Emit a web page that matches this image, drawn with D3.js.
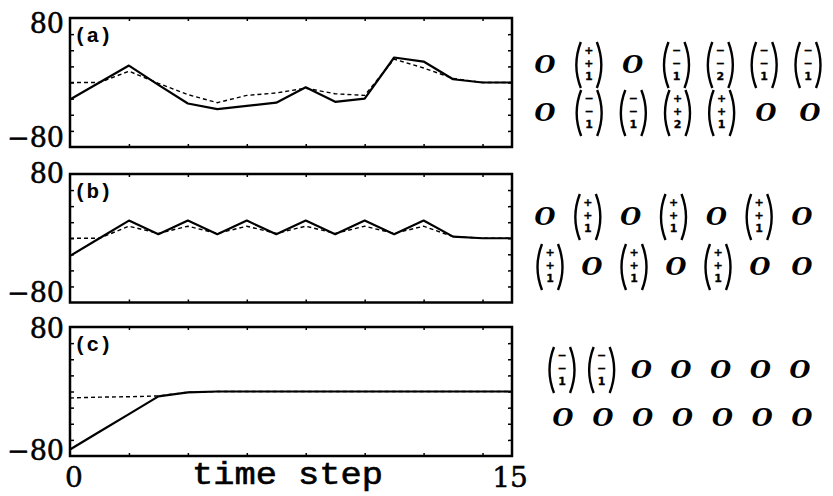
<!DOCTYPE html>
<html><head><meta charset="utf-8">
<script src="https://cdn.jsdelivr.net/npm/d3@7"></script>
<style>body{margin:0;background:#fff}svg{display:block}</style>
</head><body>
<script>
// ---- data ----
const timeSteps = d3.range(0, 16);
const solidA  = [-21, 0, 21, -3, -26, -33, -29, -25, -6, -24, -20, 31, 26, 4, 0, 0];
const dashedA = [0, 0, 14, -1, -15, -25, -16, -13, -7, -14, -16, 29, 18, 5, 0, 0];
const solidB  = [-22, 0, 22, 5, 22, 5, 22, 5, 22, 5, 22, 5, 22, 2, 0, 0];
const dashedB = [0, 0, 15, 6, 15, 6, 15, 6, 15, 6, 15, 6, 15, 2, 0, 0];
const solidC  = [-72, -50, -28, -6, -1, 0, 0, 0, 0, 0, 0, 0, 0, 0, 0, 0];
const dashedC = [-8, -7, -6.5, -5.5, -1, 0, 0, 0, 0, 0, 0, 0, 0, 0, 0, 0];
const panelLabels = ["(a)", "(b)", "(c)"];
const yTickLabels = ["80", "\u221280"];
const xTickLabels = ["0", "15"];
const xTitle = "time step";
const symA = [
  ["O", ["+","+","1"], "O", ["\u2212","\u2212","1"], ["\u2212","\u2212","2"], ["\u2212","\u2212","1"], ["\u2212","\u2212","1"]],
  ["O", ["\u2212","\u2212","1"], ["\u2212","\u2212","1"], ["+","+","2"], ["+","+","1"], "O", "O"]
];
const symB = [
  ["O", ["+","+","1"], "O", ["+","+","1"], "O", ["+","+","1"], "O"],
  [["+","+","1"], "O", ["+","+","1"], "O", ["+","+","1"], "O", "O"]
];
const symC = [
  [["\u2212","\u2212","1"], ["\u2212","\u2212","1"], "O", "O", "O", "O", "O"],
  ["O", "O", "O", "O", "O", "O", "O"]
];

// ---- layout ----
const W = 833, H = 496;
const svg = d3.select("body").append("svg").attr("width", W).attr("height", H);
const x = d3.scaleLinear().domain([0, 15]).range([70, 512]);
const panels = [
  {top: 18, bottom: 147, solid: solidA, dashed: dashedA, lab: panelLabels[0], t80: 15, b80: 0,
   sym: symA, rows: [{y: 65, x0: 545, x1: 808}, {y: 113, x0: 545, x1: 810}]},
  {top: 174, bottom: 302.5, solid: solidB, dashed: dashedB, lab: panelLabels[1], t80: 9, b80: -1,
   sym: symB, rows: [{y: 217, x0: 545, x1: 802}, {y: 267, x0: 550, x1: 802}]},
  {top: 327, bottom: 456, solid: solidC, dashed: dashedC, lab: panelLabels[2], t80: 11, b80: 4,
   sym: symC, rows: [{y: 370, x0: 562, x1: 800}, {y: 418, x0: 563, x1: 802}]}
];

panels.forEach(p => {
  const y = d3.scaleLinear().domain([-80, 80]).range([p.bottom, p.top]);
  const g = svg.append("g");
  const tk = (axis, tr) => {
    const a = g.append("g").attr("transform", tr).call(axis);
    a.select(".domain").remove();
    a.selectAll("text").remove();
    a.selectAll("line").attr("stroke", "#000").attr("stroke-width", 1.5);
  };
  const xt = d3.range(2, 15, 2), yt = d3.range(-60, 61, 20);
  tk(d3.axisBottom(x).tickValues(xt).tickSize(-3), `translate(0,${p.bottom})`);
  tk(d3.axisTop(x).tickValues(xt).tickSize(-3), `translate(0,${p.top})`);
  tk(d3.axisLeft(y).tickValues(yt).tickSize(-4), `translate(${x(0)},0)`);
  tk(d3.axisRight(y).tickValues(yt).tickSize(-4), `translate(${x(15)},0)`);
  g.append("rect").attr("x", x(0)).attr("y", p.top)
    .attr("width", x(15) - x(0)).attr("height", p.bottom - p.top)
    .attr("fill", "none").attr("stroke", "#000").attr("stroke-width", 2.5);
  const line = d3.line().x((d, i) => x(timeSteps[i])).y(d => y(d));
  g.append("path").datum(p.dashed).attr("d", line).attr("fill", "none")
    .attr("stroke", "#000").attr("stroke-width", 1.4).attr("stroke-dasharray", "4,3");
  g.append("path").datum(p.solid).attr("d", line).attr("fill", "none")
    .attr("stroke", "#000").attr("stroke-width", 2.2).attr("stroke-linejoin", "round");
  g.append("text").attr("x", 64).attr("y", p.top + p.t80).attr("text-anchor", "end")
    .attr("font-family", "DejaVu Serif").attr("font-size", 27).attr("stroke", "#000").attr("stroke-width", 0.5)
    .text(yTickLabels[0]);
  g.append("text").attr("x", 64).attr("y", p.bottom + p.b80).attr("text-anchor", "end")
    .attr("font-family", "DejaVu Serif").attr("font-size", 27).attr("stroke", "#000").attr("stroke-width", 0.5)
    .text(yTickLabels[1]);
  g.append("text").attr("x", 74).attr("y", p.top + 24)
    .attr("font-family", "Liberation Mono").attr("font-weight", "bold").attr("font-size", 21)
    .text(p.lab);
  p.sym.forEach((row, ri) => {
    const r = p.rows[ri];
    const sx = d3.scalePoint().domain(d3.range(row.length)).range([r.x0, r.x1]);
    row.forEach((s, i) => {
      const cx = sx(i), cy = r.y;
      if (s === "O") {
        g.append("text").attr("x", cx).attr("y", cy + 8).attr("text-anchor", "middle")
          .attr("font-family", "DejaVu Serif").attr("font-weight", "bold").attr("font-style", "italic")
          .attr("font-size", 24).text("O");
      } else {
        g.append("path").attr("d", `M${cx - 8},${cy - 23} Q${cx - 17},${cy} ${cx - 8},${cy + 23}`)
          .attr("fill", "none").attr("stroke", "#000").attr("stroke-width", 2.4);
        g.append("path").attr("d", `M${cx + 8},${cy - 23} Q${cx + 17},${cy} ${cx + 8},${cy + 23}`)
          .attr("fill", "none").attr("stroke", "#000").attr("stroke-width", 2.4);
        const dy = [-16, -3, 10];
        s.forEach((e, k) => {
          g.append("text").attr("x", cx).attr("y", cy + dy[k] + 4.5).attr("text-anchor", "middle")
            .attr("font-family", "DejaVu Sans").attr("font-weight", "bold").attr("font-size", 11)
            .attr("stroke", "#000").attr("stroke-width", 0.3).text(e);
        });
      }
    });
  });
});

svg.append("text").attr("x", x(0) + 4).attr("y", 487).attr("text-anchor", "middle")
  .attr("font-family", "DejaVu Serif").attr("font-size", 28).attr("stroke", "#000").attr("stroke-width", 0.5)
  .text(xTickLabels[0]);
svg.append("text").attr("x", x(15) - 2).attr("y", 487).attr("text-anchor", "middle")
  .attr("font-family", "DejaVu Serif").attr("font-size", 28).attr("stroke", "#000").attr("stroke-width", 0.5)
  .text(xTickLabels[1]);
svg.append("text").attr("x", 192).attr("y", 484)
  .attr("font-family", "Liberation Mono").attr("font-size", 31).attr("stroke", "#000").attr("stroke-width", 0.6)
  .attr("textLength", 191).attr("lengthAdjust", "spacingAndGlyphs").text(xTitle);
</script>
</body></html>
